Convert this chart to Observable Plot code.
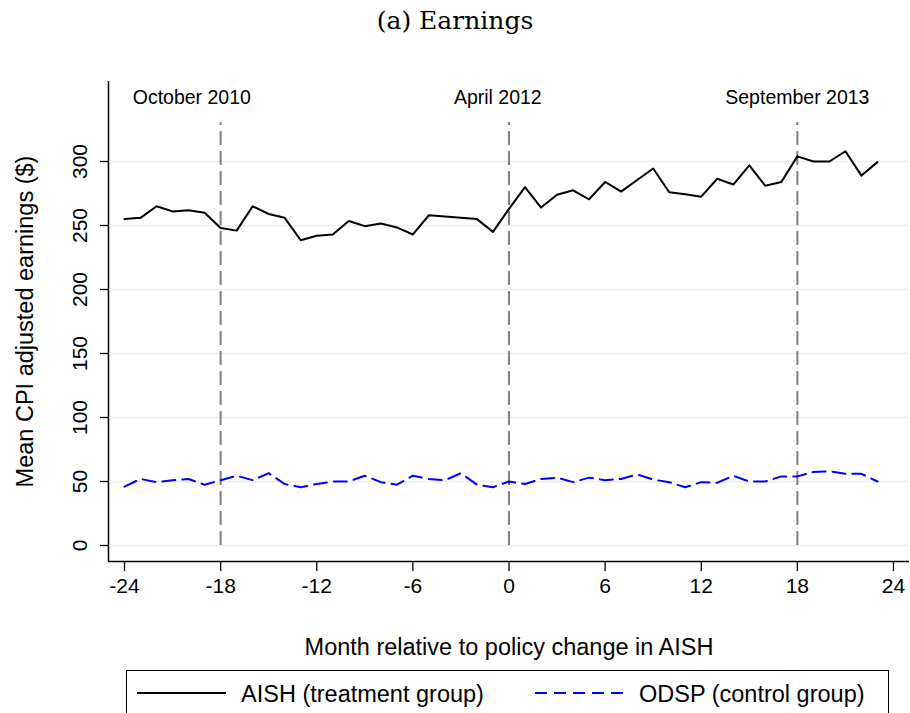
<!DOCTYPE html>
<html>
<head>
<meta charset="utf-8">
<script src="https://cdn.jsdelivr.net/npm/d3@7"></script>
<script src="https://cdn.jsdelivr.net/npm/@observablehq/plot@0.6"></script>
<style>
  html, body { margin: 0; padding: 0; background: #fff; }
  #wrap { position: relative; width: 910px; height: 713px; overflow: hidden; background: #fff; }
  #title { position: absolute; left: 0; top: 0; width: 910px; height: 45px; line-height: 42px;
           text-align: center; font-family: "DejaVu Serif", "Liberation Serif", serif; font-size: 25px; color: #000; }
  #chart { position: absolute; left: 0; top: 45px; }
  #legend { position: absolute; left: 126px; top: 670px; width: 763px; height: 80px;
            border: 1.5px solid #000; box-sizing: border-box; font-family: "Liberation Sans", Arial, Helvetica, sans-serif;
            font-size: 23.5px; color: #000; }
  .lg-text { position: absolute; top: 8px; white-space: nowrap; line-height: 30px; }
  .lg-swatch { position: absolute; top: 12px; }
</style>
</head>
<body>
<div id="wrap">
  <div id="title"></div>
  <div id="chart"></div>
  <div id="legend"></div>
</div>
<script>
// ---- data ----
const titleText = "(a) Earnings";
const xTitle = "Month relative to policy change in AISH";
const yTitle = "Mean CPI adjusted earnings ($)";

const months = [-24,-23,-22,-21,-20,-19,-18,-17,-16,-15,-14,-13,-12,-11,-10,-9,-8,-7,-6,-5,-4,-3,-2,-1,
                0,1,2,3,4,5,6,7,8,9,10,11,12,13,14,15,16,17,18,19,20,21,22,23];

const aish = [255,256,265,261,262,260,248,246,265,259,256,238.5,242,243,253.5,249.5,251.5,248.5,243,258,257,256,255,245,
              263,280,264,274,277.5,270.5,284,276.5,285.5,294.5,276,274.5,272.5,286.5,282,297,281,284,304,300,300,308,289,299.5];

const odsp = [46,52,49.5,51,52,47.5,51,54.5,51,56.5,48,45.5,48,50,50,54.5,49.5,47.5,54.5,52,51,56.5,47.5,45.5,
              50,48,52,53,49.5,53,51,52,55.5,51.5,49.5,45.5,49.5,49,54.5,50,50,54,54,57.5,58,56,56,50];

const seriesNames = ["AISH (treatment group)", "ODSP (control group)"];

const xTicks = [-24,-18,-12,-6,0,6,12,18,24];
const yTicks = [0,50,100,150,200,250,300];
const xDomain = [-25, 25];
const yDomain = [-12.5, 362.5];

const policyMonths = [-18, 0, 18];
const policyLineRange = [0, 330.5];
const annotationLabels = ["October 2010", "April 2012", "September 2013"];
const annotationMonths = [-19.8, -0.7, 18];
const annotationY = [350, 350, 350];

// ---- build ----
const SANS = '"Liberation Sans", Arial, Helvetica, sans-serif';
const aishData = months.map((m, i) => ({month: m, value: aish[i]}));
const odspData = months.map((m, i) => ({month: m, value: odsp[i]}));
const annotations = annotationLabels.map((t, i) => ({text: t, x: annotationMonths[i], y: annotationY[i]}));

document.getElementById("title").textContent = titleText;

const chart = Plot.plot({
  width: 910,
  height: 625,
  marginTop: 36,
  marginLeft: 108,
  marginRight: 1,
  marginBottom: 109,
  x: {domain: xDomain},
  y: {domain: yDomain},
  style: {fontFamily: SANS, color: "black", background: "white", overflow: "visible"},
  marks: [
    Plot.gridY(yTicks, {stroke: "#e6eef1", strokeOpacity: 1, strokeWidth: 1.5}),
    Plot.ruleX(policyMonths, {y1: policyLineRange[0], y2: policyLineRange[1], stroke: "#808080", strokeWidth: 2, strokeDasharray: "14,6"}),
    Plot.line(aishData, {x: "month", y: "value", stroke: "black", strokeWidth: 2}),
    Plot.line(odspData, {x: "month", y: "value", stroke: "#0000ff", strokeWidth: 2, strokeDasharray: "13,7"}),
    Plot.ruleX([xDomain[0]], {y1: yDomain[0], y2: yDomain[1], stroke: "black", strokeWidth: 1.5}),
    Plot.ruleY([yDomain[0]], {x1: xDomain[0], x2: xDomain[1], stroke: "black", strokeWidth: 1.5}),
    Plot.axisX(xTicks, {tickSize: 10, tickPadding: 7, fontSize: 21, label: null, strokeWidth: 1.3, tickFormat: d => String(d)}),
    Plot.axisY(yTicks, {tickSize: 8, tickPadding: 14, tickRotate: -90, fontSize: 21, label: null, strokeWidth: 1.3, tickFormat: d => String(d)}),
    Plot.text([xTitle], {text: d => d, frameAnchor: "bottom", lineAnchor: "middle", dy: 86, fontSize: 23.5, fill: "black"}),
    Plot.text([yTitle], {text: d => d, frameAnchor: "left", textAnchor: "middle", lineAnchor: "middle", dx: -83, rotate: -90, fontSize: 23.5, fill: "black"}),
    Plot.text(annotations, {x: "x", y: "y", text: "text", fontSize: 19.5, fill: "black"})
  ]
});
document.getElementById("chart").appendChild(chart);

// ---- legend ----
const legend = document.getElementById("legend");
const legendItems = [
  {name: seriesNames[0], stroke: "black", dash: null, swatchLeft: 10, textLeft: 114},
  {name: seriesNames[1], stroke: "#0000ff", dash: "12,7", swatchLeft: 408, textLeft: 512}
];
legendItems.forEach(it => {
  const sw = document.createElementNS("http://www.w3.org/2000/svg", "svg");
  sw.setAttribute("width", 90); sw.setAttribute("height", 20);
  sw.setAttribute("class", "lg-swatch");
  sw.style.left = it.swatchLeft + "px";
  const ln = document.createElementNS("http://www.w3.org/2000/svg", "line");
  ln.setAttribute("x1", 0); ln.setAttribute("x2", 89);
  ln.setAttribute("y1", 10); ln.setAttribute("y2", 10);
  ln.setAttribute("stroke", it.stroke); ln.setAttribute("stroke-width", 2);
  if (it.dash) ln.setAttribute("stroke-dasharray", it.dash);
  sw.appendChild(ln);
  legend.appendChild(sw);
  const tx = document.createElement("div");
  tx.className = "lg-text";
  tx.style.left = it.textLeft + "px";
  tx.textContent = it.name;
  legend.appendChild(tx);
});
</script>
</body>
</html>
